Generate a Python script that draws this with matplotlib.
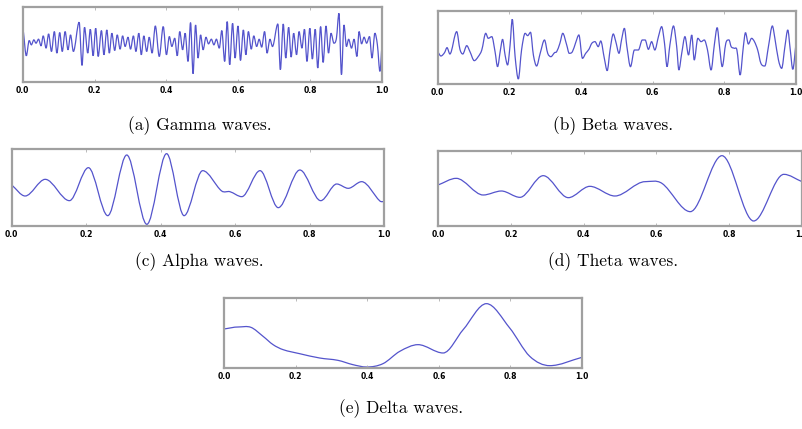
import numpy as np
import matplotlib
matplotlib.use("Agg")
import matplotlib.pyplot as plt
from matplotlib.path import Path
from matplotlib.patches import PathPatch
from matplotlib.ticker import FuncFormatter

# ---- data (time in ms, amplitude in arbitrary units) ----
gamma_t = [2, 10, 18, 24, 31, 37, 44, 51, 57, 65,
           72, 80, 88, 95, 103, 110, 118, 126, 133, 141,
           157, 165, 172, 181, 188, 196, 203, 210, 219, 226,
           234, 241, 248, 256, 263, 271, 278, 285, 293, 300,
           308, 315, 323, 330, 337, 345, 352, 360, 369, 380,
           391, 400, 408, 415, 423, 430, 437, 445, 452, 460,
           467, 474, 481, 488, 495, 502, 510, 517, 525, 532,
           539, 547, 554, 562, 569, 576, 584, 591, 599, 606,
           614, 621, 628, 636, 643, 651, 658, 665, 673, 680,
           688, 695, 710, 717, 725, 732, 740, 747, 754, 762,
           769, 777, 784, 791, 799, 806, 814, 821, 829, 836,
           844, 851, 858, 866, 873, 880, 887, 894, 901, 907,
           915, 922, 930, 936, 943, 950, 957, 965, 972, 980,
           987, 994, 1000]
gamma_v = [38, -33, 13, 0, 15, 5, 17, -3, 27, -10,
           33, -20, 40, -25, 37, -20, 40, -15, 30, -20,
           68, -62, 53, -25, 47, -33, 50, -35, 43, -30,
           45, -25, 35, -17, 30, -13, 27, -5, 23, -13,
           27, -20, 35, -30, 27, -20, 23, -25, 57, -35,
           55, -30, 25, -5, 20, -33, 40, -15, 35, -50,
           67, -87, 60, -40, 30, -15, 23, 3, 17, 0,
           17, -10, 43, -50, 70, -60, 65, -40, 57, -47,
           45, -30, 40, -13, 27, -5, 17, -7, 40, -25,
           17, -5, 63, -75, 63, -40, 53, -37, 35, -30,
           40, -10, 47, -50, 50, -43, 47, -70, 55, -53,
           57, -25, 35, 5, 20, 95, -90, 60, -5, 17,
           -10, 17, -35, 40, 3, 23, 5, 25, -40, 35,
           0, -80, 5]

beta_t = [0, 9, 19, 26, 34, 53, 62, 70, 81, 90,
          102, 113, 123, 134, 141, 151, 160, 167, 175, 181,
          188, 195, 202, 208, 216, 225, 234, 244, 251, 259,
          267, 276, 286, 298, 307, 316, 326, 332, 341, 349,
          360, 367, 376, 385, 394, 404, 413, 422, 430, 439,
          448, 455, 465, 473, 481, 490, 497, 506, 513, 521,
          528, 538, 549, 560, 571, 579, 588, 597, 606, 616,
          625, 633, 640, 648, 658, 667, 673, 681, 690, 700,
          709, 716, 726, 735, 744, 753, 763, 772, 780, 787,
          794, 804, 813, 819, 828, 835, 844, 853, 859, 867,
          876, 884, 893, 902, 913, 923, 934, 941, 951, 960,
          969, 977, 984, 991, 1000]
beta_v = [-12, -25, -15, 0, -19, 48, -5, -19, 6, -12,
          -39, -27, -7, 43, 28, 33, -12, -57, -7, 25,
          -22, -52, 8, 85, -27, -94, -7, 43, 36, 46,
          -22, -55, -17, 23, -17, -27, -15, -12, 13, 43,
          8, -17, -12, 15, 38, -32, -17, -5, 13, 18,
          3, 20, -32, -69, -7, 41, 18, -17, 23, 58,
          3, -57, -7, -7, 23, 23, -5, 18, -7, 33,
          63, 13, -57, 8, 65, 3, -67, -17, 33, -22,
          38, -37, 28, 18, 23, -7, -67, 8, 60, -2,
          -57, 13, 23, 3, -2, -7, -82, 3, 45, 11,
          28, 18, -7, -47, -55, 3, 65, 28, -37, -62,
          3, 53, -7, -65, 13]

alpha_t = [0, 36, 90, 155, 206, 258, 309, 363, 416, 463,
           513, 564, 586, 618, 667, 716, 774, 830, 873, 904,
           940, 989, 1000]
alpha_v = [8, -25, 25, -39, 60, -84, 98, -110, 102, -84,
           51, -10, -12, -27, 51, -60, 53, -39, 11, -2,
           18, -40, -42]

theta_t = [0, 50, 124, 174, 225, 289, 358, 417, 486, 569,
           615, 693, 780, 867, 950, 1000]
theta_v = [10, 30, -20, -8, -27, 38, -28, 6, -23, 20,
           15, -70, 98, -98, 42, 20]

delta_t = [0, 40, 75, 109, 137, 165, 211, 267, 318, 360,
           398, 444, 491, 542, 612, 668, 733, 798, 854, 910,
           1000]
delta_v = [12, 18, 17, -10, -35, -50, -62, -75, -82, -95,
           -102, -92, -55, -35, -60, 10, 88, 15, -70, -98,
           -73]

tick_ms = [0, 200, 400, 600, 800, 1000]
captions = ["(a) Gamma waves.", "(b) Beta waves.", "(c) Alpha waves.",
            "(d) Theta waves.", "(e) Delta waves."]

# ---- layout / style ----
LINE = "#5454cc"
FRAME = "#a0a0a0"


def smooth_path(x, y):
    """Smooth Bezier path through the read points (flat at local extrema)."""
    x = np.asarray(x, float)
    y = np.asarray(y, float)
    h = np.diff(x)
    d = np.diff(y) / h
    n = len(x)
    m = np.zeros(n)
    m[0] = d[0]
    m[-1] = d[-1]
    for k in range(1, n - 1):
        if d[k - 1] * d[k] <= 0:
            m[k] = 0.0
        else:
            m[k] = (y[k + 1] - y[k - 1]) / (x[k + 1] - x[k - 1])
    verts = [(x[0], y[0])]
    codes = [Path.MOVETO]
    for k in range(n - 1):
        verts += [(x[k] + h[k] / 3, y[k] + m[k] * h[k] / 3),
                  (x[k + 1] - h[k] / 3, y[k + 1] - m[k + 1] * h[k] / 3),
                  (x[k + 1], y[k + 1])]
        codes += [Path.CURVE4] * 3
    return Path(verts, codes)


fig = plt.figure(figsize=(8.03, 4.29), dpi=100)
fig.patch.set_facecolor("white")

panels = [
    (gamma_t, gamma_v, [0.0283, 0.8089, 0.4475, 0.1755], (-112, 115)),
    (beta_t, beta_v, [0.5451, 0.8042, 0.4462, 0.1702], (-109, 110)),
    (alpha_t, alpha_v, [0.0146, 0.4732, 0.4636, 0.1795], (-115, 116)),
    (theta_t, theta_v, [0.5455, 0.4732, 0.4533, 0.1748], (-113, 112)),
    (delta_t, delta_v, [0.2790, 0.1422, 0.4458, 0.1632], (-105, 105)),
]
cap_pos = [(0.249, 0.708), (0.763, 0.708), (0.248, 0.389),
           (0.763, 0.389), (0.500, 0.047)]

for (t, v, rect, yl), cap, cp in zip(panels, captions, cap_pos):
    ax = fig.add_axes(rect)
    ax.add_patch(PathPatch(smooth_path(t, v), fill=False,
                           edgecolor=LINE, lw=0.9))
    ax.set_xlim(0, 1000)
    ax.set_ylim(*yl)
    ax.set_xticks(tick_ms)
    ax.xaxis.set_major_formatter(FuncFormatter(lambda val, _: f"{val / 1000:.1f}"))
    ax.set_yticks([])
    ax.tick_params(axis="x", direction="in", length=2, width=0.6,
                   color="#b0b0b0", top=True, pad=3, labelsize=5.5)
    for lab in ax.get_xticklabels():
        lab.set_fontweight("bold")
    for s in ax.spines.values():
        s.set_color(FRAME)
        s.set_linewidth(1.6)
    fig.text(cp[0], cp[1], cap, ha="center", va="center",
             fontsize=12.5, family="cmr10")

fig.savefig("out.png", dpi=100)
